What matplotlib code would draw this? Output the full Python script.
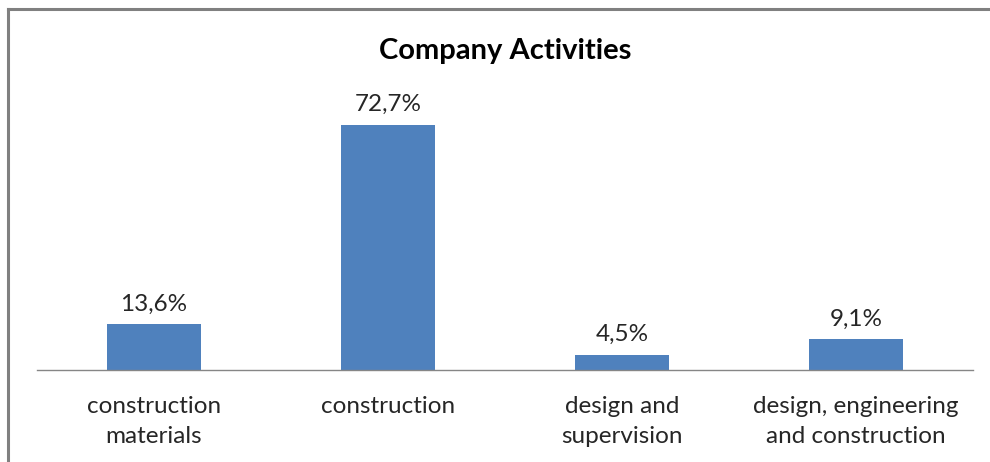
import matplotlib
matplotlib.use('Agg')
import matplotlib.pyplot as plt
from matplotlib.lines import Line2D

# Share of company activities (percent)
categories = ['construction\nmaterials', 'construction', 'design and\nsupervision',
              'design, engineering\nand construction']
shares = [13.6, 72.7, 4.5, 9.1]
value_labels = ['13,6%', '72,7%', '4,5%', '9,1%']

W, H = 990, 462
bar_color = '#4F81BD'
text_color = '#262626'
plt.rcParams['font.family'] = ['Lato', 'DejaVu Sans']

fig = plt.figure(figsize=(W / 100, H / 100), dpi=100)
fig.patch.set_facecolor('white')

# plot area in pixel coordinates: baseline at y=370, top at y=80
left, right, base, top = 37, 973, 370, 80
ax = fig.add_axes([left / W, (H - base) / H, (right - left) / W, (base - top) / H])

x = range(len(categories))
ax.bar(x, shares, width=0.40, color=bar_color, zorder=2)
ax.set_xlim(-0.5, len(categories) - 0.5)
ax.set_ylim(0, (base - top) / 3.37)

for xi, v, lab in zip(x, shares, value_labels):
    ax.annotate(lab, (xi, v), xytext=(0, 7), textcoords='offset points',
                ha='center', va='bottom', fontsize=17.5, color=text_color)

for s in ['top', 'right', 'left']:
    ax.spines[s].set_visible(False)
ax.spines['bottom'].set_color('#868686')
ax.spines['bottom'].set_linewidth(1.0)
ax.set_yticks([])
ax.set_xticks(list(x))
ax.set_xticklabels(categories, fontsize=17.5, color=text_color, linespacing=1.5)
ax.tick_params(axis='x', length=0, pad=19)
ax.patch.set_alpha(0)

fig.text(505 / W, 1 - 51 / H, 'Company Activities', ha='center', va='center',
         fontsize=21, fontweight='bold', color='black')

# outer chart frame, open on the right and bottom
fig.add_artist(Line2D([8 / W, 8 / W], [0, 1 - 9 / H], color='#808080', lw=2.2,
                      transform=fig.transFigure))
fig.add_artist(Line2D([8 / W, 1], [1 - 9 / H, 1 - 9 / H], color='#808080', lw=2.2,
                      transform=fig.transFigure))

fig.savefig('out.png', dpi=100)
